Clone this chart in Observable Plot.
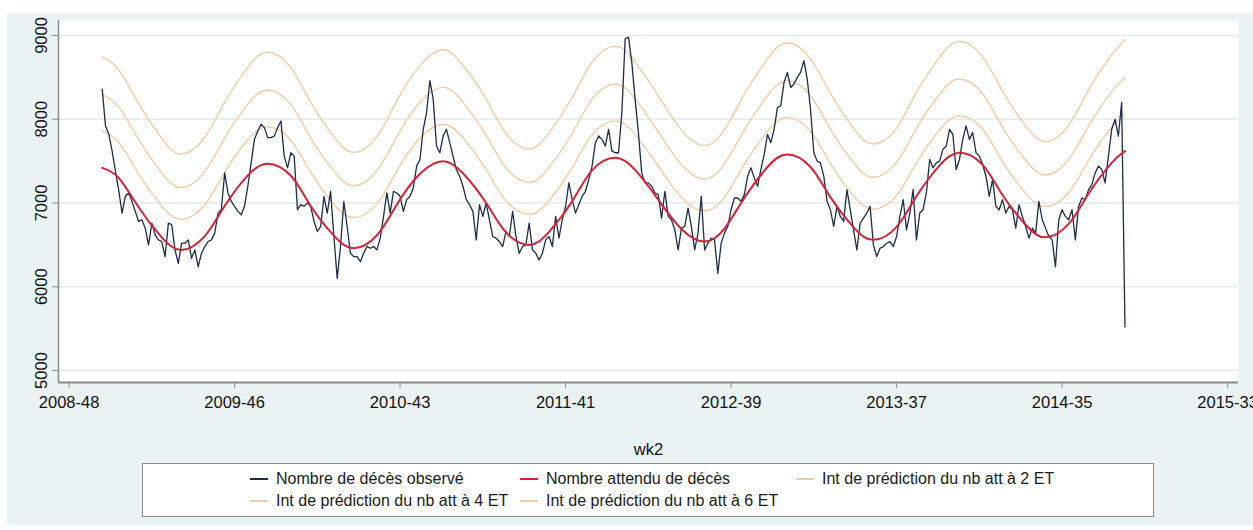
<!DOCTYPE html>
<html><head><meta charset="utf-8">
<script src="https://cdn.jsdelivr.net/npm/d3@7"></script>
<script src="https://cdn.jsdelivr.net/npm/@observablehq/plot@0.6"></script>
<style>
body{margin:0;background:#fff;font-family:"Liberation Sans",Arial,sans-serif;}
#bg{position:absolute;left:7px;top:13px;width:1246px;height:512px;background:#eaf2f3;}
#chart{position:absolute;left:0;top:0;}
#legend{position:absolute;left:142px;top:463px;width:1010px;height:52px;background:#fff;border:1px solid #8c8c8c;}
.item{position:absolute;font-size:16px;color:#1a1a1a;white-space:nowrap;line-height:20px;}
.key{position:absolute;height:0;width:18px;}
</style></head><body>
<div id="bg"></div><div id="chart"></div><div id="legend"></div>
<script>
// ---- tick labels ----
const xTickWeeks = [0, 50, 100, 150, 200, 250, 300, 350];
const xTickLabels = ["2008-48", "2009-46", "2010-43", "2011-41", "2012-39", "2013-37", "2014-35", "2015-33"];
const yTicks = [5000, 6000, 7000, 8000, 9000];
const xDomain = [-3.2, 353.3];
const yDomain = [4857, 9179];

// ---- observed weekly deaths (week index 0 = 2008-48) ----
const obsStartWeek = 10;
const observed = [
 8360,7920,7820,7620,7380,7150,6880,7080,7120,7020,
 6900,6780,6800,6700,6500,6760,6620,6560,6540,6360,
 6760,6740,6440,6280,6520,6520,6560,6340,6440,6240,
 6400,6480,6540,6560,6640,6880,6920,7360,7120,7020,
 6960,6900,6860,6960,7200,7480,7760,7860,7940,7900,
 7780,7780,7800,7900,7980,7560,7420,7600,7560,6920,
 6980,6960,7000,6960,6780,6660,6720,7080,6880,7140,
 6600,6100,6480,7020,6720,6400,6360,
 6360,6300,6400,6480,6460,6480,6440,6580,6840,7120,
 6880,7140,7120,7080,6900,7040,7080,7180,7440,7520,
 7880,8080,8460,8240,7680,7600,7800,7880,7720,7560,
 7400,7320,7200,7040,6980,6900,6560,6980,6840,7000,
 6800,6600,6580,6540,6480,6660,6600,6900,6600,6400,
 6480,6500,6760,6440,6400,6320,6400,6560,6600,6480,
 6840,6580,6800,6960,7240,7040,6880,6980,7080,7140,
 7280,7440,7720,7800,7760,7680,7880,7620,
 7600,7600,8080,8960,8980,8680,8240,7840,7360,7240,
 7240,7200,7120,7100,6820,7140,6840,6800,6680,6440,
 6700,6720,6940,6720,6440,6640,7080,6440,6520,6580,
 6560,6160,6520,6640,6720,6920,7060,7060,7020,7100,
 7320,7420,7300,7200,7400,7580,7820,7720,7880,8140,
 8160,8440,8560,8380,8420,8500,8560,8700,8480,8120,
 7600,7500,7480,7320,7020,6920,6720,6960,6840,6780,
 7160,6920,6680,6440,6760,6820,6880,6960,6500,
 6360,6460,6480,6520,6540,6480,6600,6840,7040,6680,
 6880,7160,6560,6880,6920,7120,7520,7420,7480,7500,
 7640,7680,7880,7820,7400,7520,7760,7920,7760,7840,
 7600,7560,7460,7320,7080,7280,6960,6920,7040,6880,
 6960,6920,6700,6980,6840,6720,6580,6700,6640,7020,
 6800,6700,6600,6560,6240,6800,6920,6840,6800,6920,
 6560,6960,7060,7040,7160,7220,7360,7440,7400,7240,
 7560,7880,8000,7800,8200,5520
];

// ---- expected & prediction limits, read at sample weeks ----
const fitWeeks = [10,15,21,28,34,41,47,54,60,67,73,80,86,93,99,106,113,119,126,132,139,145,152,158,165,171,178,185,192,198,204,211,217,224,230,237,243,250,256,263,269,276,282,289,295,302,308,315,319];
const expected = [7420,7300,6950,6590,6440,6605,6965,7330,7470,7325,6965,6610,6460,6615,6980,7350,7500,7355,7000,6650,6500,6655,7020,7390,7540,7395,7040,6690,6540,6695,7060,7430,7580,7430,7070,6710,6560,6715,7080,7450,7600,7455,7095,6740,6590,6750,7110,7480,7620];
const limit2 = [7858,7725,7350,6965,6805,6980,7365,7755,7910,7750,7365,6985,6825,6990,7380,7775,7940,7780,7400,7025,6865,7030,7420,7815,7980,7820,7440,7065,6905,7070,7460,7855,8020,7855,7470,7085,6925,7090,7480,7875,8040,7880,7495,7115,6955,7125,7510,7905,8060];
const limit4 = [8295,8150,7760,7360,7185,7375,7775,8180,8350,8175,7775,7380,7205,7385,7790,8200,8380,8205,7810,7420,7245,7425,7830,8240,8420,8245,7850,7460,7285,7465,7870,8280,8460,8280,7880,7480,7305,7485,7890,8300,8480,8305,7905,7510,7335,7520,7920,8330,8500];
const limit6 = [8745,8590,8190,7770,7585,7785,8205,8620,8800,8615,8205,7790,7605,7795,8220,8640,8830,8645,8240,7830,7645,7835,8260,8680,8870,8685,8280,7870,7685,7875,8300,8720,8910,8720,8310,7890,7705,7895,8320,8740,8930,8745,8335,7920,7735,7930,8350,8770,8950];

const seriesNames = ["Nombre de décès observé","Nombre attendu de décès","Int de prédiction du nb att à 2 ET","Int de prédiction du nb att à 4 ET","Int de prédiction du nb att à 6 ET"];
const seriesColors = ["#1e2c48","#cd2639","#f3cca6","#f3cca6","#f3cca6"];

const obsData = observed.map((v,i)=>({week: obsStartWeek+i, value: v}));
const fit = arr => fitWeeks.map((w,i)=>({week: w, value: arr[i]}));

const chart = Plot.plot({
  width: 1253, height: 460,
  marginLeft: 58, marginRight: 15, marginTop: 20, marginBottom: 78,
  style: {background: "transparent", fontFamily: "'Liberation Sans', Arial, sans-serif", fontSize: "16.5px", color: "#111"},
  x: {domain: xDomain},
  y: {domain: yDomain},
  marks: [
    Plot.frame({fill: "white", stroke: null}),
    Plot.ruleY(yTicks, {stroke: "#e3ebec", strokeWidth: 1.5}),
    Plot.line(fit(limit6), {x: "week", y: "value", stroke: seriesColors[4], strokeWidth: 1.4, curve: "natural"}),
    Plot.line(fit(limit4), {x: "week", y: "value", stroke: seriesColors[3], strokeWidth: 1.4, curve: "natural"}),
    Plot.line(fit(limit2), {x: "week", y: "value", stroke: seriesColors[2], strokeWidth: 1.4, curve: "natural"}),
    Plot.line(obsData, {x: "week", y: "value", stroke: seriesColors[0], strokeWidth: 1.3}),
    Plot.line(fit(expected), {x: "week", y: "value", stroke: seriesColors[1], strokeWidth: 2, curve: "natural"}),
    Plot.ruleX([xDomain[0]], {stroke: "#8a8a8a", strokeWidth: 1.5}),
    Plot.ruleY([yDomain[0]], {stroke: "#8a8a8a", strokeWidth: 2}),
    Plot.axisY({ticks: yTicks, tickSize: 6, tickPadding: 6, tickRotate: -90, textAnchor: "middle", lineAnchor: "bottom", label: null, stroke: "#8a8a8a", tickFormat: d => String(d)}),
    Plot.axisX({ticks: xTickWeeks, tickFormat: d => xTickLabels[xTickWeeks.indexOf(d)], tickSize: 6, tickPadding: 8, stroke: "#8a8a8a",
      label: "wk2", labelAnchor: "center", labelOffset: 72, labelArrow: "none"})
  ]
});
document.getElementById("chart").appendChild(chart);

// ---- legend ----
const legend = document.getElementById("legend");
const keyX = [107, 377, 653];
const rowY = [15, 37];
const order = [[0,0,0],[1,1,0],[2,2,0],[3,0,1],[4,1,1]];
order.forEach(([s,c,r]) => {
  const k = document.createElement("div");
  k.className = "key";
  k.style.left = keyX[c] + "px";
  k.style.top = (rowY[r]-1) + "px";
  k.style.borderTop = "2px solid " + seriesColors[s];
  legend.appendChild(k);
  const t = document.createElement("div");
  t.className = "item";
  t.textContent = seriesNames[s];
  t.style.left = (keyX[c] + 26) + "px";
  t.style.top = (rowY[r]-10) + "px";
  legend.appendChild(t);
});
</script>
</body></html>
